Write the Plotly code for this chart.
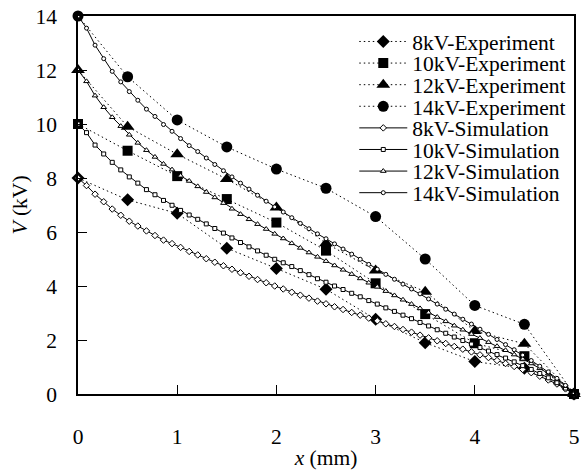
import plotly.graph_objects as go

# ---------------- data ----------------
x_exp = [0, 0.5, 1, 1.5, 2, 2.5, 3, 3.5, 4, 4.5, 5]
v8_exp = [8.0, 7.19, 6.69, 5.40, 4.65, 3.88, 2.77, 1.90, 1.20, 0.95, 0.0]
v10_exp = [10.0, 9.01, 8.07, 7.22, 6.35, 5.31, 4.10, 2.96, 1.88, 1.40, 0.0]
v12_exp = [12.0, 9.90, 8.88, 7.96, 6.91, 5.58, 4.57, 3.79, 2.33, 1.86, 0.0]
v14_exp = [14.0, 11.75, 10.15, 9.15, 8.33, 7.62, 6.57, 5.00, 3.28, 2.58, 0.0]

x_sim = [0.000, 0.086, 0.172, 0.259, 0.345, 0.431, 0.517, 0.603, 0.690, 0.776,
         0.862, 0.948, 1.034, 1.121, 1.207, 1.293, 1.379, 1.466, 1.552, 1.638,
         1.724, 1.810, 1.897, 1.983, 2.069, 2.155, 2.241, 2.328, 2.414, 2.500,
         2.586, 2.672, 2.759, 2.845, 2.931, 3.017, 3.103, 3.190, 3.276, 3.362,
         3.448, 3.534, 3.621, 3.707, 3.793, 3.879, 3.966, 4.052, 4.138, 4.224,
         4.310, 4.397, 4.483, 4.569, 4.655, 4.741, 4.828, 4.914, 5.000]

v8_sim = [8.00, 7.72, 7.40, 7.12, 6.85, 6.62, 6.40, 6.22, 6.04, 5.87,
          5.70, 5.57, 5.43, 5.28, 5.15, 5.01, 4.88, 4.75, 4.62, 4.49,
          4.36, 4.24, 4.12, 4.00, 3.89, 3.77, 3.66, 3.55, 3.44, 3.34,
          3.23, 3.13, 3.02, 2.92, 2.81, 2.71, 2.60, 2.50, 2.39, 2.29,
          2.18, 2.08, 1.97, 1.87, 1.76, 1.66, 1.56, 1.45, 1.35, 1.24,
          1.13, 1.02, 0.91, 0.79, 0.66, 0.52, 0.37, 0.19, 0.00]

v10_sim = [10.00, 9.68, 9.22, 8.89, 8.58, 8.30, 8.04, 7.81, 7.57, 7.38,
           7.17, 6.99, 6.80, 6.63, 6.47, 6.30, 6.13, 5.96, 5.78, 5.61,
           5.45, 5.30, 5.14, 4.99, 4.86, 4.72, 4.57, 4.42, 4.27, 4.14,
           4.00, 3.87, 3.73, 3.60, 3.46, 3.33, 3.19, 3.06, 2.92, 2.79,
           2.65, 2.52, 2.38, 2.25, 2.11, 1.98, 1.85, 1.72, 1.59, 1.46,
           1.33, 1.19, 1.05, 0.91, 0.76, 0.60, 0.42, 0.22, 0.00]

v12_sim = [12.00, 11.58, 11.05, 10.62, 10.25, 9.92, 9.60, 9.30, 9.03, 8.78,
           8.52, 8.31, 8.08, 7.89, 7.69, 7.48, 7.28, 7.07, 6.86, 6.66,
           6.47, 6.29, 6.11, 5.93, 5.76, 5.58, 5.41, 5.24, 5.08, 4.92,
           4.76, 4.60, 4.44, 4.28, 4.12, 3.97, 3.81, 3.65, 3.49, 3.33,
           3.17, 3.01, 2.85, 2.69, 2.53, 2.38, 2.22, 2.07, 1.92, 1.77,
           1.62, 1.46, 1.30, 1.13, 0.95, 0.76, 0.54, 0.29, 0.00]

v14_sim = [14.00, 13.55, 12.92, 12.42, 11.95, 11.56, 11.20, 10.88, 10.55, 10.28,
           9.98, 9.73, 9.46, 9.20, 8.98, 8.74, 8.50, 8.27, 8.04, 7.81,
           7.59, 7.36, 7.14, 6.93, 6.74, 6.53, 6.32, 6.12, 5.93, 5.75,
           5.56, 5.37, 5.18, 4.99, 4.80, 4.62, 4.43, 4.25, 4.07, 3.89,
           3.71, 3.52, 3.33, 3.14, 2.96, 2.77, 2.59, 2.40, 2.21, 2.02,
           1.83, 1.64, 1.44, 1.24, 1.03, 0.82, 0.58, 0.32, 0.00]

exp_names = ["8kV-Experiment", "10kV-Experiment", "12kV-Experiment", "14kV-Experiment"]
sim_names = ["8kV-Simulation", "10kV-Simulation", "12kV-Simulation", "14kV-Simulation"]
exp_series = [v8_exp, v10_exp, v12_exp, v14_exp]
sim_series = [v8_sim, v10_sim, v12_sim, v14_sim]
exp_symbols = ["diamond", "square", "triangle-up", "circle"]
exp_sizes = [10, 10, 12, 11]
sim_symbols = ["diamond", "square", "triangle-up", "circle"]
sim_sizes = [5, 4, 5, 4]

FONT = "Liberation Serif"
FS = 21.5

fig = go.Figure()

legend_ids = ["legend"] + ["legend%d" % i for i in range(2, 9)]

k = 0
for name, ys, sym, sz in zip(exp_names, exp_series, exp_symbols, exp_sizes):
    fig.add_trace(go.Scatter(
        x=x_exp, y=ys, name=name, mode="lines+markers",
        line=dict(color="black", width=1, dash="1.5px,3px"),
        marker=dict(symbol=sym, size=sz, color="black", line=dict(width=0)),
        cliponaxis=False, legend=legend_ids[k]))
    k += 1

for name, ys, sym, sz in zip(sim_names, sim_series, sim_symbols, sim_sizes):
    fig.add_trace(go.Scatter(
        x=x_sim, y=ys, name=name, mode="lines+markers",
        line=dict(color="black", width=1),
        marker=dict(symbol=sym, size=sz, color="white", line=dict(color="black", width=1)),
        cliponaxis=False, legend=legend_ids[k]))
    k += 1

# legends: one per entry to reproduce the tight spacing
PLOT_TOP, PLOT_BOTTOM = 16, 394
entry_py = [41.5, 63.1, 84.7, 106.3, 127.9, 149.5, 171.1, 192.7]
legend_layout = {}
for lid, py in zip(legend_ids, entry_py):
    legend_layout[lid] = dict(
        x=0.557, xanchor="left",
        y=(PLOT_BOTTOM - py) / (PLOT_BOTTOM - PLOT_TOP), yanchor="middle",
        bgcolor="rgba(0,0,0,0)", borderwidth=0,
        font=dict(family=FONT, size=FS, color="black"),
        itemwidth=48, tracegroupgap=0)

fig.update_layout(
    width=583, height=473,
    margin=dict(l=78, r=4, t=16, b=79),
    paper_bgcolor="white", plot_bgcolor="white",
    font=dict(family=FONT, size=FS, color="black"),
    showlegend=True,
    **legend_layout,
)

fig.update_xaxes(
    range=[0, 5], tickvals=[0, 1, 2, 3, 4, 5],
    ticks="inside", ticklen=9, tickwidth=1, tickcolor="black",
    showline=True, linecolor="black", linewidth=1.5, mirror=True,
    showgrid=False, zeroline=False,
    tickfont=dict(family=FONT, size=FS, color="black"),
    ticklabelstandoff=22,
    title=dict(text="<i>x</i> (mm)", font=dict(family=FONT, size=FS, color="black"), standoff=2),
)
fig.update_yaxes(
    range=[0, 14], tickvals=[0, 2, 4, 6, 8, 10, 12, 14],
    ticks="inside", ticklen=9, tickwidth=1, tickcolor="black",
    showline=True, linecolor="black", linewidth=1.5, mirror=True,
    showgrid=False, zeroline=False,
    tickfont=dict(family=FONT, size=FS, color="black"),
    ticklabelstandoff=15,
    title=dict(text="<i>V</i> (kV)", font=dict(family=FONT, size=FS, color="black"), standoff=2),
)

fig.write_html("out.html")
